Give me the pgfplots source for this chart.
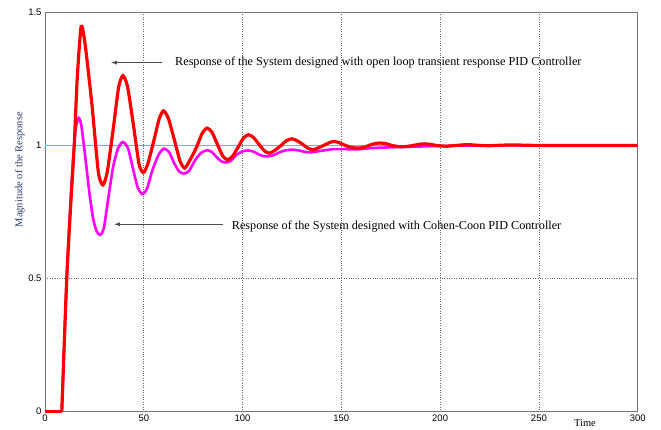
\documentclass[border=0pt]{standalone}
\usepackage{pgfplots}
\pgfplotsset{compat=1.18}
\usepackage{fontspec}
\setmainfont{Liberation Serif}
\newfontfamily\tickfont{Liberation Sans}
\usetikzlibrary{arrows.meta}

\definecolor{labelblue}{RGB}{40,60,110}
\definecolor{refcyan}{RGB}{0,230,238}
\definecolor{framegray}{RGB}{120,120,120}
\definecolor{ccmag}{RGB}{255,0,255}
\definecolor{olred}{RGB}{255,0,0}

\begin{document}
\begin{tikzpicture}
\begin{axis}[
  scale only axis,
  width=592.7bp, height=399.4bp,
  xmin=0, xmax=300, ymin=0, ymax=1.5,
  xtick={0,50,...,300},
  ytick={0,0.5,1,1.5},
  yticklabels={0,0.5,1,1.5},
  major tick length=0pt,
  axis line style={framegray, line width=1bp},
  grid=major,
  major grid style={dotted, black!60, line width=0.6bp},
  tick label style={font=\tickfont\fontsize{9.5bp}{11bp}\selectfont},
  /pgf/number format/assume math mode=true,
  clip=false,
]
% reference level
\addplot[refcyan, line width=1.2bp, mark=none] coordinates {(0,1) (300,1)};

% Cohen-Coon PID response
\addplot[ccmag, line width=2.6bp, mark=none] coordinates {(0,0) (8.5,0)};
\addplot[ccmag, line width=2.6bp, mark=none, smooth, tension=0.4] coordinates {
  (8.5,0) (11,0.5) (13,0.8) (14.5,0.98) (15.7,1.07) (17.1,1.103) (18.5,1.07)
  (20.5,0.95) (22.5,0.82) (24.5,0.72) (26.3,0.675) (28,0.664) (29.8,0.69) (32,0.80)
  (34.5,0.92) (37,0.99) (39.5,1.013) (42,0.99) (44.3,0.92) (46.8,0.845) (49.2,0.817)
  (51.5,0.835) (54.5,0.91) (57.5,0.965) (60.2,0.988) (62.8,0.975) (65.3,0.935)
  (67.8,0.903) (70.3,0.894) (73,0.905) (76,0.945) (79,0.972) (82,0.982) (84.5,0.975)
  (87,0.955) (89.3,0.94) (91.5,0.936) (94,0.942) (97,0.965) (100,0.978) (102.9,0.981)
  (105.5,0.977) (108,0.967) (110.5,0.96) (112.7,0.959) (115.5,0.963) (119,0.975)
  (122,0.982) (125.4,0.984) (128.5,0.981) (131.5,0.976) (134.7,0.974) (140,0.98)
  (146,0.986) (152,0.986) (158,0.985) (165,0.99) (175,0.993) (185,0.995) (200,0.998)
  (220,1.0) (300,1.0)
};

% open loop transient response PID
\addplot[olred, line width=3.2bp, mark=none] coordinates {(0,0) (8.5,0)};
\addplot[olred, line width=3.2bp, mark=none, smooth, tension=0.4] coordinates {
  (8.5,0) (11,0.5) (13.2,0.8) (14.8,1.0) (16.3,1.25) (18.3,1.447) (20.3,1.38)
  (23.8,1.15) (27,0.90) (29.3,0.852) (31.5,0.90) (34.5,1.06) (37.3,1.22) (39.5,1.262)
  (41.8,1.22) (44.7,1.08) (47.6,0.93) (49.8,0.898) (52,0.93) (55,1.015) (57.8,1.10)
  (60,1.13) (62.5,1.10) (65.5,1.02) (68.4,0.94) (70.7,0.915) (73,0.94) (76.5,0.99)
  (79.5,1.045) (82,1.065) (84.5,1.05) (87.2,1.005) (90,0.96) (92.4,0.946) (95,0.96)
  (97.7,0.993) (100.5,1.028) (103,1.04) (105.5,1.03) (108.2,1.005) (111,0.98)
  (113.5,0.971) (116,0.98) (119.2,0.998) (122.2,1.018) (125,1.025) (127.5,1.018)
  (130.3,1.005) (133,0.99) (135.6,0.984) (138,0.99) (141,1.0) (143.8,1.01)
  (146.2,1.015) (149,1.01) (152,1.0) (155.5,0.992) (158.5,0.99) (161.5,0.993)
  (164,1.0) (167,1.007) (169.5,1.009) (172.5,1.007) (175.5,1.0) (178.5,0.996)
  (181,0.995) (184,0.997) (187,1.001) (190,1.005) (192,1.006) (195,1.004) (198,1.0)
  (203,0.997) (208,1.0) (214,1.003) (220,1.0) (225,0.999) (236,1.002) (250,1.0)
  (300,1.0)
};

% annotations
\draw[black!70, line width=0.8bp, -{Latex[length=6bp,width=4bp]}]
  (axis cs:59.2,1.311) -- (axis cs:33.3,1.311);
\node[anchor=west, inner sep=0pt, font=\fontsize{12.2bp}{14bp}\selectfont]
  at (axis cs:65.8,1.310) {Response of the System designed with open loop transient response PID Controller};
\draw[black!70, line width=0.8bp, -{Latex[length=6bp,width=4bp]}]
  (axis cs:90.1,0.704) -- (axis cs:34.9,0.704);
\node[anchor=west, inner sep=0pt, font=\fontsize{12.2bp}{14bp}\selectfont]
  at (axis cs:94.5,0.697) {Response of the System designed with Cohen-Coon PID Controller};

\node[font=\fontsize{10.5bp}{12bp}\selectfont] at (axis cs:273.3,-0.041) {Time};
\node[rotate=90, text=labelblue, font=\fontsize{10.5bp}{12bp}\selectfont]
  at (axis cs:-12.7,0.909) {Magnitude of the Response};
\end{axis}
\pgfresetboundingbox
\path (current axis.south west) ++(-45bp,-18.3bp) coordinate (bbA);
\path (current axis.north east) ++(23.3bp,12.3bp) coordinate (bbB);
\useasboundingbox (bbA) rectangle (bbB);
\end{tikzpicture}
\end{document}
